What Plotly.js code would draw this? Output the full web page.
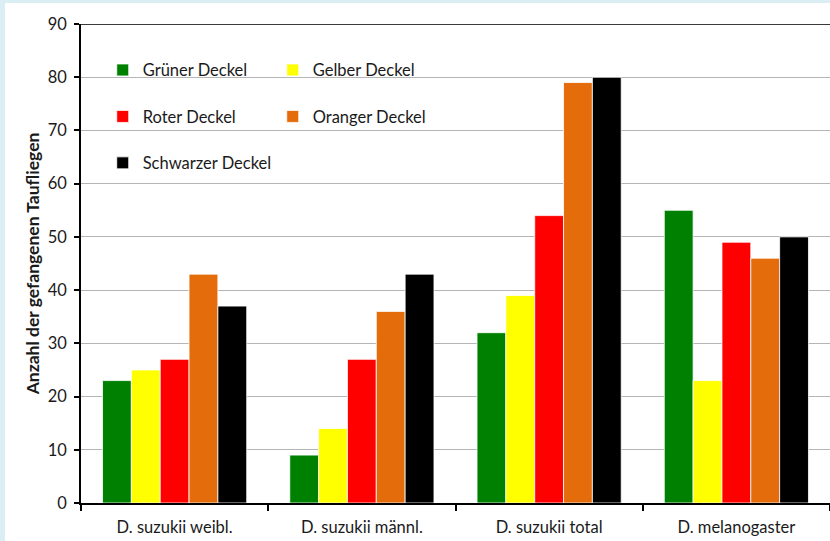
<!DOCTYPE html>
<html>
<head>
<meta charset="utf-8">
<script src="https://cdn.plot.ly/plotly-3.0.1.min.js"></script>
<style>
  html, body { margin: 0; padding: 0; background: #daeef3; width: 830px; height: 541px; overflow: hidden; }
  #chart { position: absolute; left: 5px; top: 3px; width: 825px; height: 538px; }
</style>
</head>
<body>
<div id="chart"></div>
<script>
// Data
const categories = ["D. suzukii weibl.", "D. suzukii männl.", "D. suzukii total", "D. melanogaster"];
const seriesNames = ["Grüner Deckel", "Gelber Deckel", "Roter Deckel", "Oranger Deckel", "Schwarzer Deckel"];
const gruen = [23, 9, 32, 55];
const gelb = [25, 14, 39, 23];
const rot = [27, 27, 54, 49];
const orange = [43, 36, 79, 46];
const schwarz = [37, 43, 80, 50];
const yTickVals = [0, 10, 20, 30, 40, 50, 60, 70, 80, 90];
const yTitle = "Anzahl der gefangenen Taufliegen";

const seriesValues = [gruen, gelb, rot, orange, schwarz];
const colors = ["#008000", "#ffff00", "#ff0000", "#e46c0a", "#000000"];
const legendOf = ["legend", "legend2", "legend", "legend2", "legend"];

const traces = seriesValues.map((vals, i) => ({
  type: "bar",
  name: seriesNames[i],
  x: categories,
  y: vals,
  marker: { color: colors[i], line: { color: "#ffffff", width: 0.8 } },
  legend: legendOf[i],
  legendgroup: "g" + i,
  hoverinfo: "x+y+name"
}));

const FAM = "Lato, 'Open Sans', sans-serif";

const legendCommon = {
  bgcolor: "rgba(0,0,0,0)",
  borderwidth: 0,
  font: { family: FAM, size: 16.5, color: "#1a1a1a" },
  orientation: "v",
  xanchor: "left",
  yanchor: "top",
  tracegroupgap: 22,
  itemclick: false,
  itemdoubleclick: false
};

const layout = {
  width: 825,
  height: 538,
  margin: { l: 76, r: 0, t: 21, b: 38 },
  paper_bgcolor: "#ffffff",
  plot_bgcolor: "#ffffff",
  font: { family: FAM, size: 15, color: "#1a1a1a" },
  barmode: "group",
  bargap: 0.23,
  bargroupgap: 0,
  showlegend: true,
  legend: Object.assign({}, legendCommon, { x: 0.029, y: 0.94 }),
  legend2: Object.assign({}, legendCommon, { x: 0.256, y: 0.94 }),
  xaxis: {
    type: "category",
    tickson: "boundaries",
    ticks: "outside",
    ticklen: 6,
    tickwidth: 1.5,
    tickcolor: "#000000",
    showline: true,
    linecolor: "#000000",
    linewidth: 1.5,
    showgrid: false,
    ticklabelstandoff: 8,
    tickfont: { family: FAM, size: 16.5, color: "#1a1a1a" },
    fixedrange: true
  },
  yaxis: {
    range: [0, 90],
    tickvals: yTickVals,
    ticks: "outside",
    ticklen: 5,
    tickwidth: 1.5,
    tickcolor: "#000000",
    showline: true,
    linecolor: "#000000",
    linewidth: 1.5,
    showgrid: true,
    gridcolor: "#b5b5b5",
    gridwidth: 1.2,
    zeroline: false,
    ticklabelstandoff: 4,
    tickfont: { family: FAM, size: 16.5, color: "#1a1a1a" },
    title: { text: yTitle, font: { family: FAM, size: 17.5, color: "#1a1a1a", weight: "bold" }, standoff: 4 },
    fixedrange: true
  },
  shapes: [
    { type: "line", xref: "paper", yref: "y", x0: 0, x1: 1, y0: 90, y1: 90, line: { color: "#3a3a3a", width: 1.8 } }
  ]
};

Plotly.newPlot("chart", traces, layout, { displayModeBar: false, responsive: false });
</script>
</body>
</html>
